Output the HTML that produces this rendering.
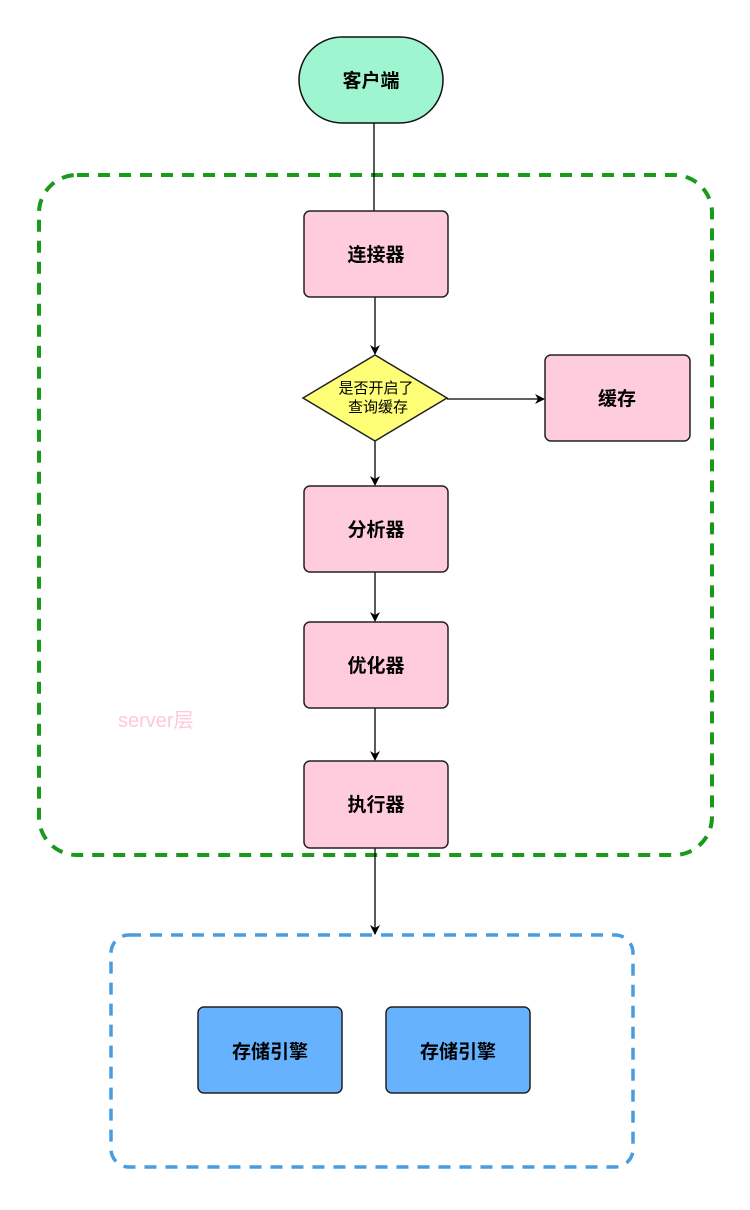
<!DOCTYPE html>
<html><head><meta charset="utf-8"><style>
body{margin:0;background:#fff;}
text{font-family:"Liberation Sans","Noto Sans CJK SC",sans-serif;}
</style></head><body>
<svg width="750" height="1205" viewBox="0 0 750 1205" xmlns="http://www.w3.org/2000/svg">
<defs><marker id="a" markerWidth="10" markerHeight="10" refX="9" refY="5" orient="auto" markerUnits="userSpaceOnUse"><path d="M0,0 L10,5 L0,10 L3,5 Z" fill="#000"/></marker></defs>
<rect width="750" height="1205" fill="#fff"/>
<rect x="39" y="175" width="673" height="680" rx="38" fill="none" stroke="#1a9a1a" stroke-width="4" stroke-dasharray="12,9"/>
<rect x="111" y="935" width="522" height="232" rx="18" fill="none" stroke="#4a9be0" stroke-width="3.5" stroke-dasharray="12,9"/>
<line x1="374" y1="123" x2="374" y2="211" stroke="#000" stroke-width="1.3"/>
<line x1="375" y1="297" x2="375" y2="354" stroke="#000" stroke-width="1.3" marker-end="url(#a)"/>
<line x1="447" y1="399" x2="544" y2="399" stroke="#000" stroke-width="1.3" marker-end="url(#a)"/>
<line x1="375" y1="441" x2="375" y2="485" stroke="#000" stroke-width="1.3" marker-end="url(#a)"/>
<line x1="375" y1="572" x2="375" y2="621" stroke="#000" stroke-width="1.3" marker-end="url(#a)"/>
<line x1="375" y1="708" x2="375" y2="760" stroke="#000" stroke-width="1.3" marker-end="url(#a)"/>
<line x1="375" y1="848" x2="375" y2="934" stroke="#000" stroke-width="1.3" marker-end="url(#a)"/>
<rect x="299" y="37" width="144" height="86" rx="43" fill="#9ff5cf" stroke="#111" stroke-width="1.5"/>
<text x="371" y="87" text-anchor="middle" font-size="19" font-weight="bold">客户端</text>
<g fill="#ffccdd" stroke="#222" stroke-width="1.5">
<rect x="304" y="211" width="144" height="86" rx="6"/>
<rect x="545" y="355" width="145" height="86" rx="6"/>
<rect x="304" y="486" width="144" height="86" rx="6"/>
<rect x="304" y="622" width="144" height="86" rx="6"/>
<rect x="304" y="761" width="144" height="87" rx="6"/>
</g>
<polygon points="375,355 447,398 375,441 303,398" fill="#ffff77" stroke="#222" stroke-width="1.5"/>
<g font-size="19" font-weight="bold" text-anchor="middle">
<text x="376" y="261">连接器</text>
<text x="617" y="405">缓存</text>
<text x="376" y="536">分析器</text>
<text x="376" y="672">优化器</text>
<text x="376" y="811">执行器</text>
</g>
<text x="376" y="393" font-size="15" text-anchor="middle">是否开启了</text>
<text x="378" y="412" font-size="15" text-anchor="middle">查询缓存</text>
<text x="118" y="727" font-size="20" fill="#ffc8dc">server层</text>
<rect x="198" y="1007" width="144" height="86" rx="6" fill="#66b2ff" stroke="#222" stroke-width="1.5"/>
<rect x="386" y="1007" width="144" height="86" rx="6" fill="#66b2ff" stroke="#222" stroke-width="1.5"/>
<text x="270" y="1058" font-size="19" font-weight="bold" text-anchor="middle">存储引擎</text>
<text x="458" y="1058" font-size="19" font-weight="bold" text-anchor="middle">存储引擎</text>
</svg>
</body></html>
